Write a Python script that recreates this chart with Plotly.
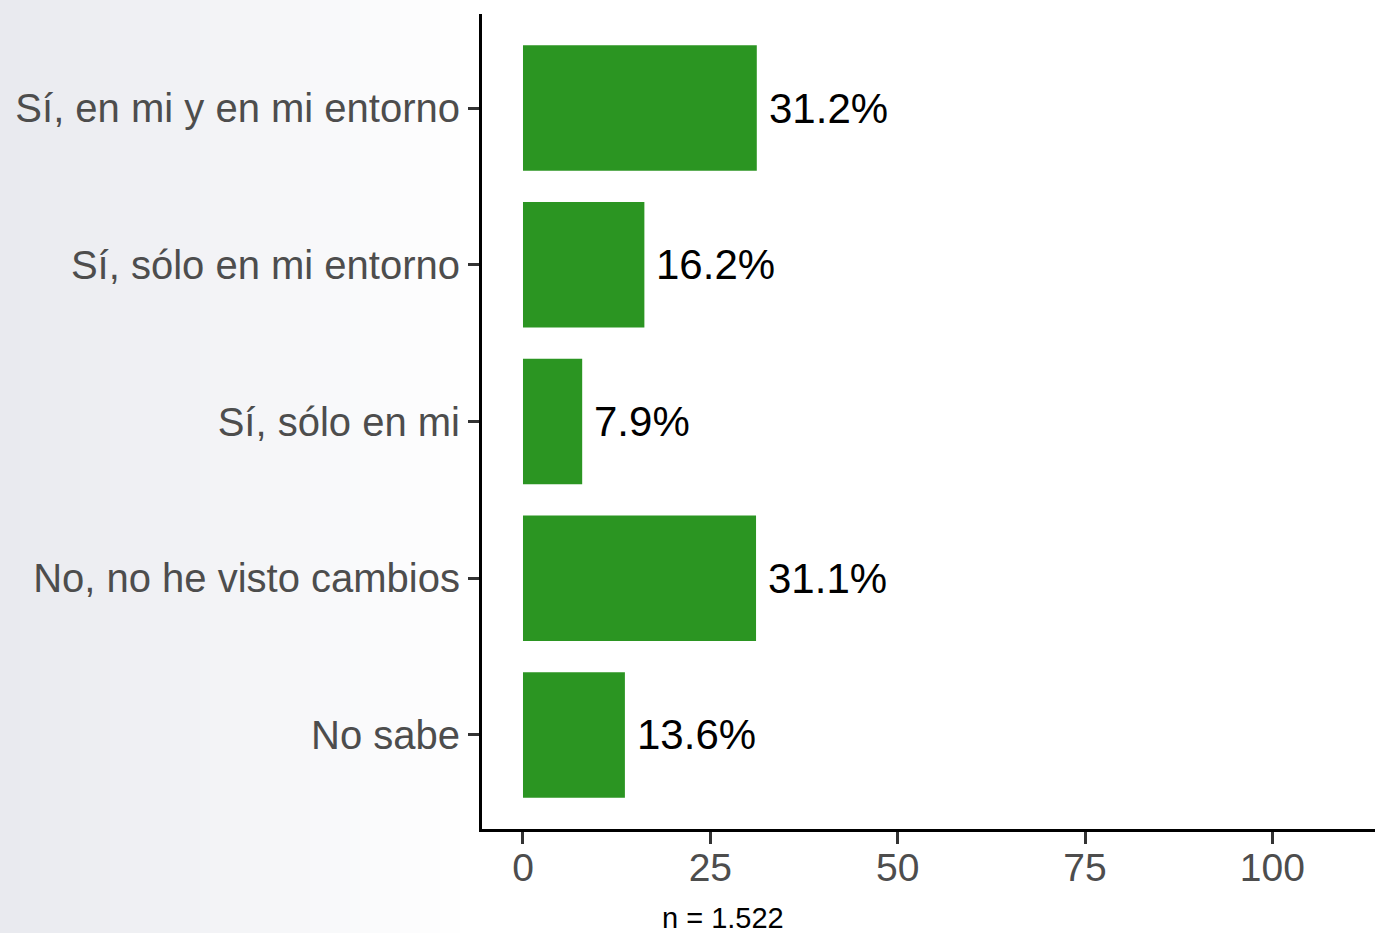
import plotly.graph_objects as go

categories = ["Sí, en mi y en mi entorno", "Sí, sólo en mi entorno", "Sí, sólo en mi",
              "No, no he visto cambios", "No sabe"]
values = [31.2, 16.2, 7.9, 31.1, 13.6]
labels = [f"{v:.1f}%" for v in values]
x_ticks = [0, 25, 50, 75, 100]
note = "n = 1.522"

W, H = 1375, 933
L, R, T, B = 482, 0, 14, 104
bar_color = "#2b9522"

fig = go.Figure(go.Bar(
    x=values, y=categories, orientation="h",
    marker=dict(color=bar_color, line=dict(width=0)),
    width=0.8, hoverinfo="skip",
))

# value labels
annotations = []
for c, v, t in zip(categories, values, labels):
    annotations.append(dict(x=v, y=c, xref="x", yref="y", text=t, showarrow=False,
                            xanchor="left", yanchor="middle", xshift=10,
                            font=dict(family="Liberation Sans, Arial", size=42, color="black")))
annotations.append(dict(x=(723 - L) / (W - L - R), y=0, xref="paper", yref="paper",
                        text=note, showarrow=False, xanchor="center", yanchor="top",
                        yshift=-(900 - (H - B)),
                        font=dict(family="Liberation Sans Narrow, Liberation Sans", size=29, color="black")))

# left gradient background
shapes = []
pw = W - L - R
start = (233, 234, 239)
steps = 48
gw = 480
for i in range(steps):
    x0 = i * gw / steps
    x1 = (i + 1) * gw / steps + 1
    f = i / (steps - 1)
    col = tuple(round(s + (255 - s) * f) for s in start)
    shapes.append(dict(type="rect", xref="paper", yref="paper",
                       x0=(x0 - L) / pw, x1=(x1 - L) / pw,
                       y0=-B / (H - T - B) - 0.01, y1=1 + T / (H - T - B) + 0.01,
                       fillcolor=f"rgb{col}", line=dict(width=0), layer="below"))

fig.update_layout(
    width=W, height=H,
    margin=dict(l=L, r=R, t=T, b=B, pad=0),
    paper_bgcolor="white", plot_bgcolor="rgba(0,0,0,0)",
    showlegend=False, bargap=0.2,
    annotations=annotations, shapes=shapes,
    font=dict(family="Liberation Sans, Arial", color="#4d4d4d"),
    xaxis=dict(range=[-5.47, 113.7], tickvals=x_ticks, ticktext=[str(t) for t in x_ticks],
               showgrid=False, zeroline=False, showline=True, linewidth=3, linecolor="black",
               ticks="outside", ticklen=12, tickwidth=3, tickcolor="#333333",
               ticklabelstandoff=-10,
               tickfont=dict(size=39, color="#4d4d4d"), fixedrange=True),
    yaxis=dict(type="category", categoryorder="array", categoryarray=categories,
               range=[4.6, -0.6], showgrid=False, zeroline=False, showline=True,
               linewidth=3, linecolor="black", ticks="outside", ticklen=11, tickwidth=3,
               tickcolor="#333333", tickfont=dict(size=40, color="#4d4d4d"), fixedrange=True),
)

fig.write_html("out.html", config={"displayModeBar": False},
               post_script="document.body.style.margin='0';document.body.style.overflow='hidden';")
